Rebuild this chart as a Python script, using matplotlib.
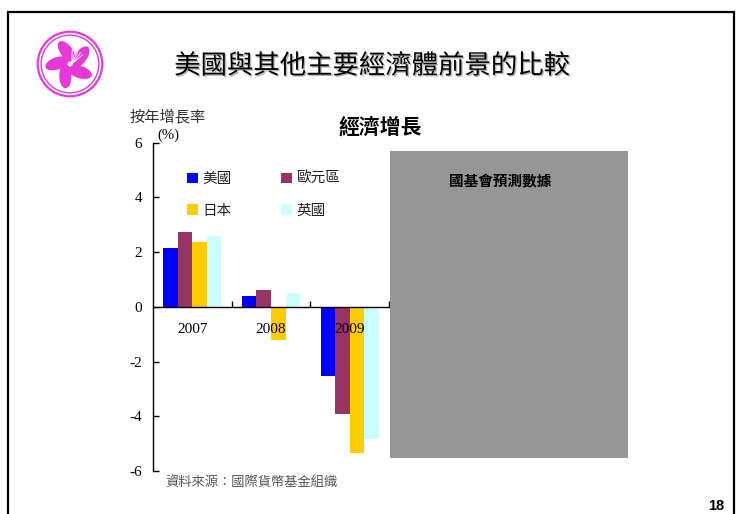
import matplotlib
matplotlib.use("Agg")
import matplotlib.pyplot as plt
import matplotlib.patheffects as pe
from matplotlib.patches import Rectangle, Circle, Ellipse
import numpy as np

plt.rcParams['font.family'] = ['Noto Sans CJK TC', 'DejaVu Sans']

# ---------------- data ----------------
categories = ["2007", "2008", "2009"]
series_names = ["美國", "歐元區", "日本", "英國"]
us = [2.15, 0.39, -2.53]
euro = [2.73, 0.61, -3.92]
japan = [2.36, -1.22, -5.35]
uk = [2.59, 0.51, -4.84]
colors = ["#0000FF", "#993366", "#FFCC00", "#CCFFFF"]
yticks = [-6, -4, -2, 0, 2, 4, 6]

title = "美國與其他主要經濟體前景的比較"
chart_title = "經濟增長"
ylabel = "按年增長率"
unit = "(%)"
box_text = "國基會預測數據"
source = "資料來源：國際貨幣基金組織"
page = "18"

W, H = 736, 514
fig = plt.figure(figsize=(W / 100, H / 100), dpi=100)


def fx(x):
    return x / W


def fy(y):
    return 1 - y / H


# frame
fig.patches.append(Rectangle((fx(8), fy(530)), fx(734) - fx(8), fy(12) - fy(530),
                             transform=fig.transFigure, fill=False, lw=1.6,
                             edgecolor="black", clip_on=False))

# ---------------- chart axes ----------------
ax_left, ax_right, ax_top, ax_bot = 153, 389, 142.7, 471
ax = fig.add_axes([fx(ax_left), fy(ax_bot), fx(ax_right) - fx(ax_left), fy(ax_top) - fy(ax_bot)])
x = np.arange(len(categories))
bw = 0.185
all_series = [us, euro, japan, uk]
handles = []
for i, (vals, c, name) in enumerate(zip(all_series, colors, series_names)):
    b = ax.bar(x + (i - 1.5) * bw, vals, width=bw, color=c, edgecolor='none', label=name, zorder=2)
    handles.append(b)

ax.set_xlim(-0.5, 2.5)
ax.set_ylim(-6, 6)
ax.set_yticks(yticks)
ax.set_yticklabels([str(t) for t in yticks], family="Liberation Serif", fontsize=11)
ax.spines['top'].set_visible(False)
ax.spines['right'].set_visible(False)
ax.spines['bottom'].set_position(('data', 0))
ax.spines['left'].set_linewidth(1.0)
ax.spines['bottom'].set_linewidth(1.0)
ax.tick_params(axis='y', direction='in', length=4, width=1, pad=8)
ax.set_xticks([0.5, 1.5, 2.5])
ax.set_xticklabels([])
ax.tick_params(axis='x', direction='in', length=4, width=1)
ax.patch.set_alpha(0)
for i, cat in enumerate(categories):
    ax.text(i, -0.82, cat, ha='center', va='center', family="Liberation Serif", fontsize=11, zorder=3)

# legend (order for column filling)
order = [0, 2, 1, 3]
leg = ax.legend([handles[i] for i in order], [series_names[i] for i in order], ncol=2,
                frameon=False, loc='upper left', bbox_to_anchor=(fx(187), fy(172)),
                bbox_transform=fig.transFigure, fontsize=10.5, handlelength=0.75,
                handleheight=0.75, handletextpad=0.3, columnspacing=3.4,
                labelspacing=1.22, borderpad=0, borderaxespad=0)
for t in leg.get_texts():
    t.set_color("#222222")

# grey forecast box
fig.patches.append(Rectangle((fx(390), fy(458)), fx(628) - fx(390), fy(151) - fy(458),
                             transform=fig.transFigure, facecolor="#969696", edgecolor='none', zorder=5))
fig.text(fx(500), fy(181), box_text, ha='center', va='center', fontsize=10.5,
         fontweight='bold', color='black', zorder=6)

# texts
t = fig.text(fx(372), fy(66), title, ha='center', va='center', fontsize=19, color='black')
t.set_path_effects([pe.withSimplePatchShadow(offset=(1, -1), shadow_rgbFace='#888888', alpha=0.6)])
fig.text(fx(380), fy(127), chart_title, ha='center', va='center', fontsize=15, fontweight='bold')
fig.text(fx(130), fy(117), ylabel, ha='left', va='center', fontsize=11, color='#333333')
fig.text(fx(157), fy(135), unit, ha='left', va='center', fontsize=10.5, family="Liberation Serif")
fig.text(fx(165), fy(482), source, ha='left', va='center', fontsize=9.5, color='#555555')
fig.text(fx(724), fy(506), page, ha='right', va='center', fontsize=10.5, fontweight='bold',
         family="Liberation Sans")

# ---------------- logo ----------------
lax = fig.add_axes([fx(36), fy(98), fx(104) - fx(36), fy(30) - fy(98)])
lax.set_xlim(-1, 1)
lax.set_ylim(-1, 1)
lax.set_aspect('equal')
lax.axis('off')
mag = "#E838D8"
lax.add_patch(Circle((0, 0), 0.95, fill=False, edgecolor=mag, lw=1.6))
lax.add_patch(Circle((0, 0), 0.85, fill=False, edgecolor=mag, lw=1.0))
for k in range(5):
    ang = 90 + k * 72 + 15
    r = np.deg2rad(ang)
    cx, cy = 0.38 * np.cos(r), 0.38 * np.sin(r)
    lax.add_patch(Ellipse((cx, cy), 0.72, 0.36, angle=ang + 22, facecolor=mag, edgecolor='none'))
for k in range(5):
    a = np.deg2rad(40 + k * 12)
    lax.plot([0.05, 0.05 + 0.42 * np.cos(a)], [0.0, 0.42 * np.sin(a)], color="white", lw=0.6)

fig.savefig("out.png", dpi=100)
